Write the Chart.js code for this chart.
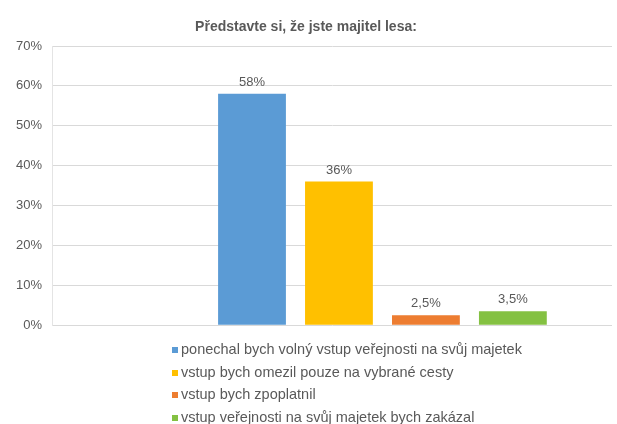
<!DOCTYPE html>
<html>
<head>
<meta charset="utf-8">
<script src="https://cdn.jsdelivr.net/npm/chart.js@4.4.1/dist/chart.umd.min.js"></script>
<style>
  body { margin: 0; background: #fff; }
  #wrap { position: relative; width: 617px; height: 424px; overflow: hidden; font-family: "Liberation Sans", Arial, sans-serif; }
  #box { position: absolute; left: 0; top: 0; width: 617px; height: 343px; }
  #legend { position: absolute; left: 172px; top: 338px; margin: 0; padding: 0; list-style: none; font-size: 14.5px; color: #595959; }
  #legend li { height: 22.7px; line-height: 22.7px; white-space: nowrap; }
  #legend span { display: inline-block; width: 6px; height: 6px; margin-right: 3px; vertical-align: 1px; }
</style>
</head>
<body>
<div id="wrap">
  <div id="box"><canvas id="chart"></canvas></div>
  <ul id="legend"></ul>
</div>
<script>
const title = 'Představte si, že jste majitel lesa:';
const categories = [
  'ponechal bych volný vstup veřejnosti na svůj majetek',
  'vstup bych omezil pouze na vybrané cesty',
  'vstup bych zpoplatnil',
  'vstup veřejnosti na svůj majetek bych zakázal'
];
const values = [58, 36, 2.5, 3.5];
const colors = ['#5b9bd5', '#ffc000', '#ed7d31', '#84c142'];
const yTicks = [0, 10, 20, 30, 40, 50, 60, 70];

const fmt = v => String(v).replace('.', ',') + '%';

// value labels above the bars
const barLabels = {
  id: 'barLabels',
  afterDatasetsDraw(chart) {
    const ctx = chart.ctx;
    const meta = chart.getDatasetMeta(0);
    ctx.save();
    ctx.font = '13px "Liberation Sans", Arial, sans-serif';
    ctx.fillStyle = '#595959';
    ctx.textAlign = 'center';
    ctx.textBaseline = 'bottom';
    meta.data.forEach((bar, i) => {
      ctx.fillText(fmt(values[i]), bar.x, bar.y - 5);
    });
    ctx.restore();
  }
};

const ctx = document.getElementById('chart').getContext('2d');
new Chart(ctx, {
  type: 'bar',
  data: {
    datasets: [{
      data: values.map((v, i) => ({ x: i, y: v })),
      backgroundColor: colors,
      barPercentage: 0.78,
      categoryPercentage: 1
    }]
  },
  options: {
    responsive: true,
    maintainAspectRatio: false,
    animation: false,
    layout: { padding: { top: 0, right: 5, bottom: 2, left: 0 } },
    scales: {
      x: {
        type: 'linear',
        display: false,
        offset: false,
        min: -2.3,
        max: 4.14
      },
      y: {
        min: yTicks[0],
        max: yTicks[yTicks.length - 1],
        afterFit: s => { s.width = 52; },
        ticks: {
          stepSize: 10,
          padding: 10,
          color: '#595959',
          font: { size: 13, family: '"Liberation Sans", Arial, sans-serif' },
          callback: v => v + '%'
        },
        grid: { color: '#d9d9d9', drawTicks: false },
        border: { display: true, color: '#e4e4e4' }
      }
    },
    plugins: {
      legend: { display: false },
      tooltip: { enabled: false },
      title: {
        display: true,
        text: title,
        color: '#595959',
        font: { size: 14, weight: 'bold', family: '"Liberation Sans", Arial, sans-serif' },
        padding: { top: 19, bottom: 10.2 }
      }
    }
  },
  plugins: [barLabels]
});

// legend, one item per line
const legend = document.getElementById('legend');
categories.forEach((c, i) => {
  const li = document.createElement('li');
  const sw = document.createElement('span');
  sw.style.background = colors[i];
  li.appendChild(sw);
  li.appendChild(document.createTextNode(c));
  legend.appendChild(li);
});
</script>
</body>
</html>
